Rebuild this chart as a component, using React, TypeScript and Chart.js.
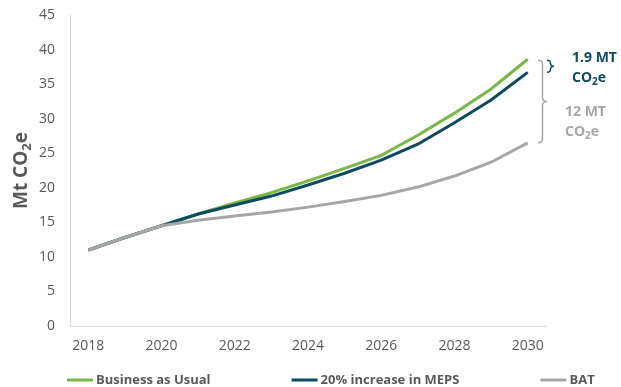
import React, { useEffect, useRef } from "react";
import { Chart, registerables } from "chart.js";

Chart.register(...registerables);

const years = ["2018","2019","2020","2021","2022","2023","2024","2025","2026","2027","2028","2029","2030"];
const businessAsUsual = [11, 12.8, 14.5, 16.2, 17.8, 19.3, 21.0, 22.8, 24.7, 27.6, 30.8, 34.3, 38.6];
const meps20 = [11, 12.8, 14.5, 16.2, 17.5, 18.8, 20.4, 22.1, 24.0, 26.3, 29.4, 32.7, 36.7];
const bat = [11, 12.8, 14.5, 15.3, 15.9, 16.5, 17.2, 18.0, 18.9, 20.1, 21.7, 23.7, 26.5];
const seriesNames = ["Business as Usual", "20% increase in MEPS", "BAT"];
const seriesColors = ["#7ab648", "#0d4a5e", "#a6a6a6"];
const yTicks = { min: 0, max: 45, step: 5 };

const FONT = "'Open Sans', sans-serif";
const TEXT = "#595959";

function drawCO2e(ctx: CanvasRenderingContext2D, x: number, y: number, size: number) {
  ctx.textAlign = "left";
  ctx.textBaseline = "middle";
  ctx.font = `bold ${size}px ${FONT}`;
  ctx.fillText("CO", x, y);
  let cx = x + ctx.measureText("CO").width;
  ctx.font = `bold ${Math.round(size * 0.68)}px ${FONT}`;
  ctx.fillText("2", cx, y + size * 0.28);
  cx += ctx.measureText("2").width;
  ctx.font = `bold ${size}px ${FONT}`;
  ctx.fillText("e", cx, y);
  return cx + ctx.measureText("e").width;
}

function brace(ctx: CanvasRenderingContext2D, x: number, y1: number, y2: number, w: number) {
  const mid = (y1 + y2) / 2;
  const r = Math.min(4, (y2 - y1) / 4);
  const xm = x + w / 2;
  ctx.beginPath();
  ctx.moveTo(x, y1);
  ctx.quadraticCurveTo(xm, y1, xm, y1 + r);
  ctx.lineTo(xm, mid - r);
  ctx.quadraticCurveTo(xm, mid, x + w, mid);
  ctx.quadraticCurveTo(xm, mid, xm, mid + r);
  ctx.lineTo(xm, y2 - r);
  ctx.quadraticCurveTo(xm, y2, x, y2);
  ctx.stroke();
}

const decorPlugin = {
  id: "decor",
  afterDraw(chart: any) {
    const ctx: CanvasRenderingContext2D = chart.ctx;
    const ys = chart.scales.y;
    const area = chart.chartArea;
    const TS = 19;
    ctx.save();
    // Y axis title
    ctx.fillStyle = TEXT;
    ctx.translate(22, (area.top + area.bottom) / 2);
    ctx.rotate(-Math.PI / 2);
    ctx.font = `bold ${TS}px ${FONT}`;
    const w1 = ctx.measureText("Mt ").width;
    const wCO = ctx.measureText("CO").width;
    const we = ctx.measureText("e").width;
    ctx.font = `bold ${Math.round(TS * 0.68)}px ${FONT}`;
    const w2 = ctx.measureText("2").width;
    const total = w1 + wCO + w2 + we;
    ctx.font = `bold ${TS}px ${FONT}`;
    ctx.textAlign = "left";
    ctx.textBaseline = "middle";
    ctx.fillText("Mt ", -total / 2, 0);
    drawCO2e(ctx, -total / 2 + w1, 0, TS);
    ctx.restore();

    // Braces
    const last = years.length - 1;
    const yB = ys.getPixelForValue(businessAsUsual[last]);
    const yM = ys.getPixelForValue(meps20[last]);
    const yT = ys.getPixelForValue(bat[last]);
    ctx.save();
    ctx.lineWidth = 1.5;
    ctx.strokeStyle = seriesColors[2];
    brace(ctx, area.right - 8, yB + 1, yT, 9);
    ctx.strokeStyle = seriesColors[1];
    brace(ctx, area.right + 1, yB + 1, yM, 7);

    // Annotation labels
    ctx.fillStyle = seriesColors[1];
    ctx.font = `bold 14px ${FONT}`;
    ctx.textAlign = "left";
    ctx.textBaseline = "middle";
    ctx.fillText("1.9 MT", area.right + 26, yB - 1);
    drawCO2e(ctx, area.right + 26, yB + 19, 14);
    ctx.fillStyle = seriesColors[2];
    ctx.font = `bold 14px ${FONT}`;
    const yMid = (yB + yT) / 2;
    ctx.fillText("12 MT", area.right + 19, yMid + 11);
    drawCO2e(ctx, area.right + 19, yMid + 31, 14);
    ctx.restore();

    // Legend
    ctx.save();
    ctx.textBaseline = "middle";
    ctx.textAlign = "left";
    let lx = 67;
    const ly = 380;
    seriesNames.forEach((name, i) => {
      ctx.strokeStyle = seriesColors[i];
      ctx.lineWidth = 3;
      ctx.beginPath();
      ctx.moveTo(lx, ly);
      ctx.lineTo(lx + 26, ly);
      ctx.stroke();
      ctx.fillStyle = TEXT;
      ctx.font = `bold 13px ${FONT}`;
      ctx.fillText(name, lx + 29, ly);
      lx += 29 + ctx.measureText(name).width + 81;
    });
    ctx.restore();
  },
};

export default function App() {
  const ref = useRef<HTMLCanvasElement | null>(null);
  useEffect(() => {
    document.body.style.margin = "0";
    if (!ref.current) return;
    const mk = (label: string, data: number[], color: string) => ({
      label,
      data,
      borderColor: color,
      backgroundColor: color,
      borderWidth: 3,
      pointRadius: 0,
      tension: 0,
      fill: false,
    });
    const chart = new Chart(ref.current, {
      type: "line",
      data: {
        labels: years,
        datasets: [
          mk(seriesNames[2], bat, seriesColors[2]),
          mk(seriesNames[1], meps20, seriesColors[1]),
          mk(seriesNames[0], businessAsUsual, seriesColors[0]),
        ],
      },
      options: {
        animation: false,
        responsive: true,
        maintainAspectRatio: false,
        layout: { padding: { left: 0, right: 75, top: 15, bottom: 0 } },
        plugins: { legend: { display: false }, tooltip: { enabled: false } },
        scales: {
          x: {
            type: "category",
            offset: true,
            grid: { display: false, drawTicks: true, tickLength: 9 },
            border: { display: true, color: "#d9d9d9", width: 1 },
            ticks: {
              autoSkip: false,
              maxRotation: 0,
              padding: 3,
              color: TEXT,
              font: { family: FONT, size: 14 },
              callback: function (_v: any, i: number) {
                return i % 2 === 0 ? years[i] : "";
              },
            },
            afterFit: (s: any) => { s.height = 61; },
          },
          y: {
            min: yTicks.min,
            max: yTicks.max,
            grid: { display: false, drawTicks: true, tickLength: 12 },
            border: { display: true, color: "#d9d9d9", width: 1 },
            ticks: {
              stepSize: yTicks.step,
              padding: 3,
              color: TEXT,
              font: { family: FONT, size: 14 },
            },
            afterFit: (s: any) => { s.width = 70; },
          },
        },
      },
      plugins: [decorPlugin],
    });
    return () => chart.destroy();
  }, []);
  return (
    <div style={{ width: 621, height: 387, position: "relative" }}>
      <canvas ref={ref} />
    </div>
  );
}
